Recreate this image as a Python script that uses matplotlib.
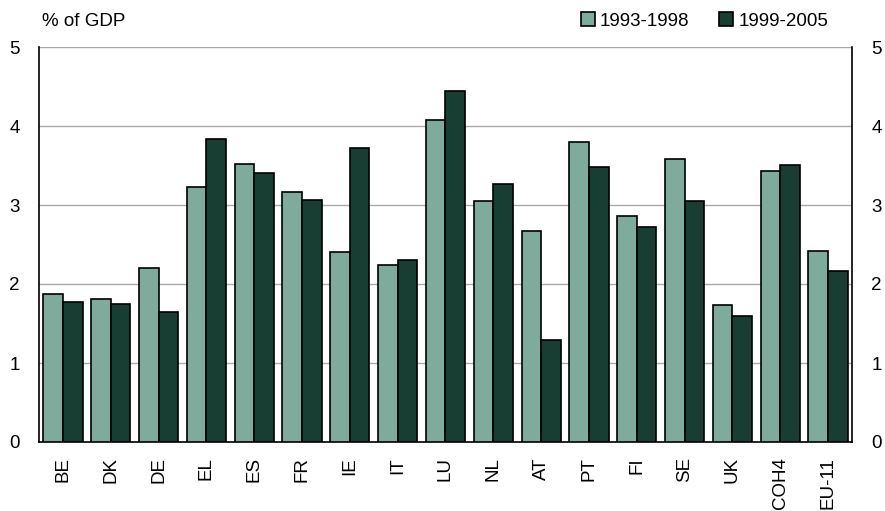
import matplotlib
matplotlib.use("Agg")
import matplotlib.pyplot as plt
import numpy as np

plt.rcParams['font.family'] = ['Liberation Sans', 'DejaVu Sans']

categories = ["BE", "DK", "DE", "EL", "ES", "FR", "IE", "IT", "LU", "NL",
              "AT", "PT", "FI", "SE", "UK", "COH4", "EU-11"]
period_1993_1998 = [1.87, 1.81, 2.20, 3.23, 3.52, 3.16, 2.41, 2.24, 4.07, 3.05,
                    2.67, 3.80, 2.86, 3.58, 1.74, 3.43, 2.42]
period_1999_2005 = [1.77, 1.75, 1.64, 3.83, 3.41, 3.06, 3.72, 2.30, 4.44, 3.27,
                    1.29, 3.48, 2.72, 3.05, 1.59, 3.51, 2.16]
series_labels = ["1993-1998", "1999-2005"]
yticks = [0, 1, 2, 3, 4, 5]

light = "#7fab9d"
dark = "#183e34"
fs = 13.5

fig = plt.figure(figsize=(8.85, 5.11), dpi=100)
ax = fig.add_axes([39 / 885, 1 - 442 / 511, (852 - 39) / 885, (442 - 47) / 511])

x = np.arange(len(categories))
w = 0.41
ax.bar(x - w / 2, period_1993_1998, width=w, color=light, edgecolor="black",
       linewidth=1.2, label=series_labels[0], zorder=3)
ax.bar(x + w / 2, period_1999_2005, width=w, color=dark, edgecolor="black",
       linewidth=1.2, label=series_labels[1], zorder=3)

ax.set_xlim(-0.5, len(categories) - 0.5)
ax.set_ylim(0, 5)
ax.set_yticks(yticks)
ax.yaxis.grid(True, color="#aaaaaa", linewidth=1, zorder=0)
ax.set_axisbelow(True)

ax.set_xticks(x)
ax.set_xticklabels(categories, rotation=90, fontsize=fs)
ax.tick_params(axis="x", length=0, pad=11)
ax.tick_params(axis="y", length=0, labelsize=fs, pad=14,
               labelleft=True, labelright=True)

ax.spines["top"].set_visible(False)
for side in ["left", "right", "bottom"]:
    ax.spines[side].set_linewidth(1.2)
    ax.spines[side].set_color("black")

fig.text(42 / 885, 1 - 21 / 511, "% of GDP", fontsize=fs, va="center", ha="left")

fig.legend(handles=ax.containers, labels=series_labels, loc="center right",
           bbox_to_anchor=(828 / 885, 1 - 21 / 511), ncol=2, frameon=False,
           fontsize=fs, handlelength=0.75, handleheight=0.75, handletextpad=0.25,
           columnspacing=1.6, borderaxespad=0, borderpad=0)

fig.savefig("out.png", dpi=100)
